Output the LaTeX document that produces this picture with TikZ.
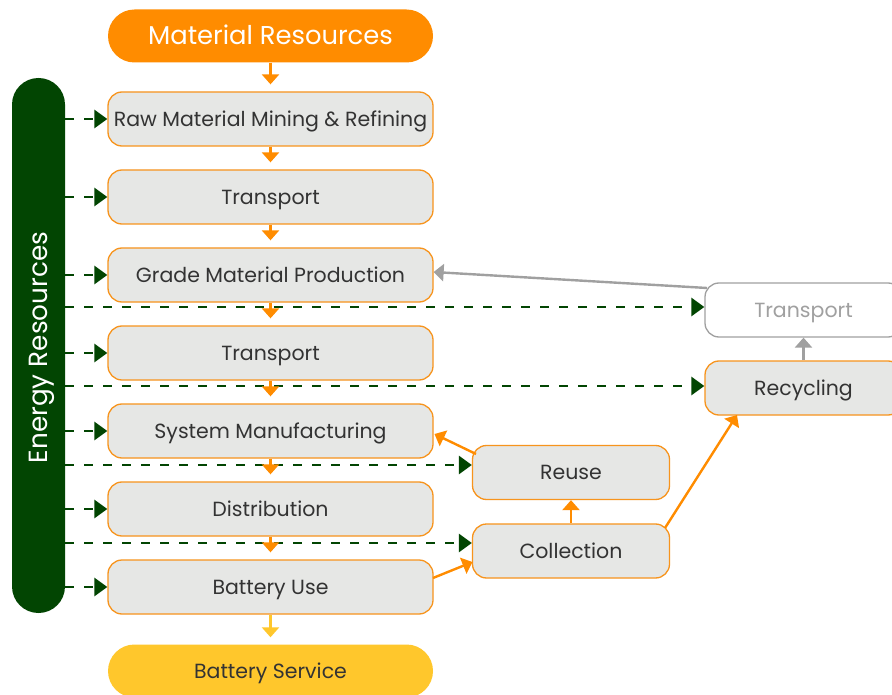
\documentclass[tikz,border=0pt]{standalone}
\usepackage{fontspec}
\setmainfont{Poppins}
\usetikzlibrary{arrows.meta,calc}
\definecolor{orng}{HTML}{FF8C00}
\definecolor{bordr}{HTML}{F7941D}
\definecolor{boxfill}{HTML}{E6E7E5}
\definecolor{dgreen}{HTML}{024502}
\definecolor{ylw}{HTML}{FFC72C}
\definecolor{txt}{HTML}{333333}
\definecolor{gry}{HTML}{A0A0A0}
\begin{document}
\begin{tikzpicture}[x=1pt,y=-1pt,
  stage/.style={draw=bordr,line width=1.3pt,fill=boxfill,rounded corners=14pt,
    minimum width=325pt,minimum height=54pt,text=txt,inner sep=0pt,
    text height=16pt,text depth=1.7pt,
    font=\fontsize{20.5}{24}\selectfont},
  sidebox/.style={stage,minimum width=197pt},
  pill/.style={rounded corners=26.5pt,minimum width=325pt,minimum height=53pt,inner sep=0pt},
  flow/.style={draw=orng,line width=2.4pt,-{Triangle[width=17pt,length=10pt]}},
  yflow/.style={draw=ylw,line width=2.4pt,-{Triangle[width=17pt,length=10pt]}},
  gflow/.style={draw=gry,line width=2.4pt,-{Triangle[width=17pt,length=10pt]}},
  energy/.style={draw=dgreen,line width=2.8pt,dash pattern=on 9pt off 10pt,
    -{Triangle[width=18pt,length=13pt]},color=dgreen},
]
\clip (0,0) rectangle (892,695);
\fill[white] (0,0) rectangle (892,695);

% main column
\node[pill,fill=orng,text=white,text height=20pt,text depth=2pt,font=\fontsize{25.8}{30}\selectfont] (mat) at (270.5,36) {Material Resources};
\node[stage] (raw) at (270.5,119) {Raw Material Mining \& Refining};
\node[stage] (tr1) at (270.5,197) {Transport};
\node[stage] (gmp) at (270.5,275) {Grade Material Production};
\node[stage] (tr3) at (270.5,353) {Transport};
\node[stage] (sys) at (270.5,431) {System Manufacturing};
\node[stage] (dis) at (270.5,509) {Distribution};
\node[stage] (use) at (270.5,587) {Battery Use};
\node[pill,fill=ylw,text=txt,text height=16pt,text depth=1.7pt,font=\fontsize{20.5}{24}\selectfont] (srv) at (270.5,671) {Battery Service};

% right side
\node[sidebox] (reuse) at (571,472.5) {Reuse};
\node[sidebox] (coll) at (571,551) {Collection};
\node[sidebox] (rec) at (803.5,388) {Recycling};
\node[sidebox,draw=gry,fill=white,text=gry] (tr2) at (803.5,310) {Transport};

% energy bar
\node[fill=dgreen,rounded corners=26.5pt,minimum width=53pt,minimum height=535pt,inner sep=0pt] (en) at (38.5,345.5) {};
\node[rotate=90,text=white,text height=20pt,text depth=2pt,font=\fontsize{26.3}{30}\selectfont] (entxt) at (38.5,347.5) {Energy Resources};

% long dashed energy lines
\coordinate (d1) at (en.east |- 0,307);
\coordinate (d2) at (en.east |- 0,386);
\coordinate (d3) at (en.east |- 0,465);
\coordinate (d4) at (en.east |- 0,543);
\draw[energy] (d1) -- (d1 -| tr2.west);
\draw[energy] (d2) -- (d2 -| rec.west);
\draw[energy] (d3) -- (d3 -| reuse.west);
\draw[energy] (d4) -- (d4 -| coll.west);

% short dashed energy arrows
\foreach \b in {raw,tr1,gmp,tr3,sys,dis,use}{
  \draw[energy] (en.east |- \b.west) -- (\b.west);
}

% main flow
\draw[flow,shorten >=7pt] (mat.south) -- (raw.north);
\draw[flow,shorten >=7pt] (raw.south) -- (tr1.north);
\draw[flow,shorten >=7pt] (tr1.south) -- (gmp.north);
\draw[flow,shorten >=7pt] (gmp.south) -- (tr3.north);
\draw[flow,shorten >=7pt] (tr3.south) -- (sys.north);
\draw[flow,shorten >=7pt] (sys.south) -- (dis.north);
\draw[flow,shorten >=7pt] (dis.south) -- (use.north);
\draw[yflow,shorten >=7pt] (use.south) -- (srv.north);

% loops
\coordinate (u1) at (433,578);
\coordinate (c1) at (472.5,562);
\draw[flow] (u1) -- (c1);
\draw[flow] (coll.north) -- (reuse.south);
\coordinate (r1) at (476,454);
\coordinate (s1) at (434.5,434);
\draw[flow] (r1) -- (s1);
\coordinate (c2) at (665,528);
\coordinate (rc1) at (737,415);
\draw[flow] (c2) -- (rc1);
\draw[gflow] (rec.north) -- (tr2.south);
\coordinate (t1) at (707,288);
\draw[gflow] (t1) -- (gmp.east |- 0,272);
\end{tikzpicture}
\end{document}
